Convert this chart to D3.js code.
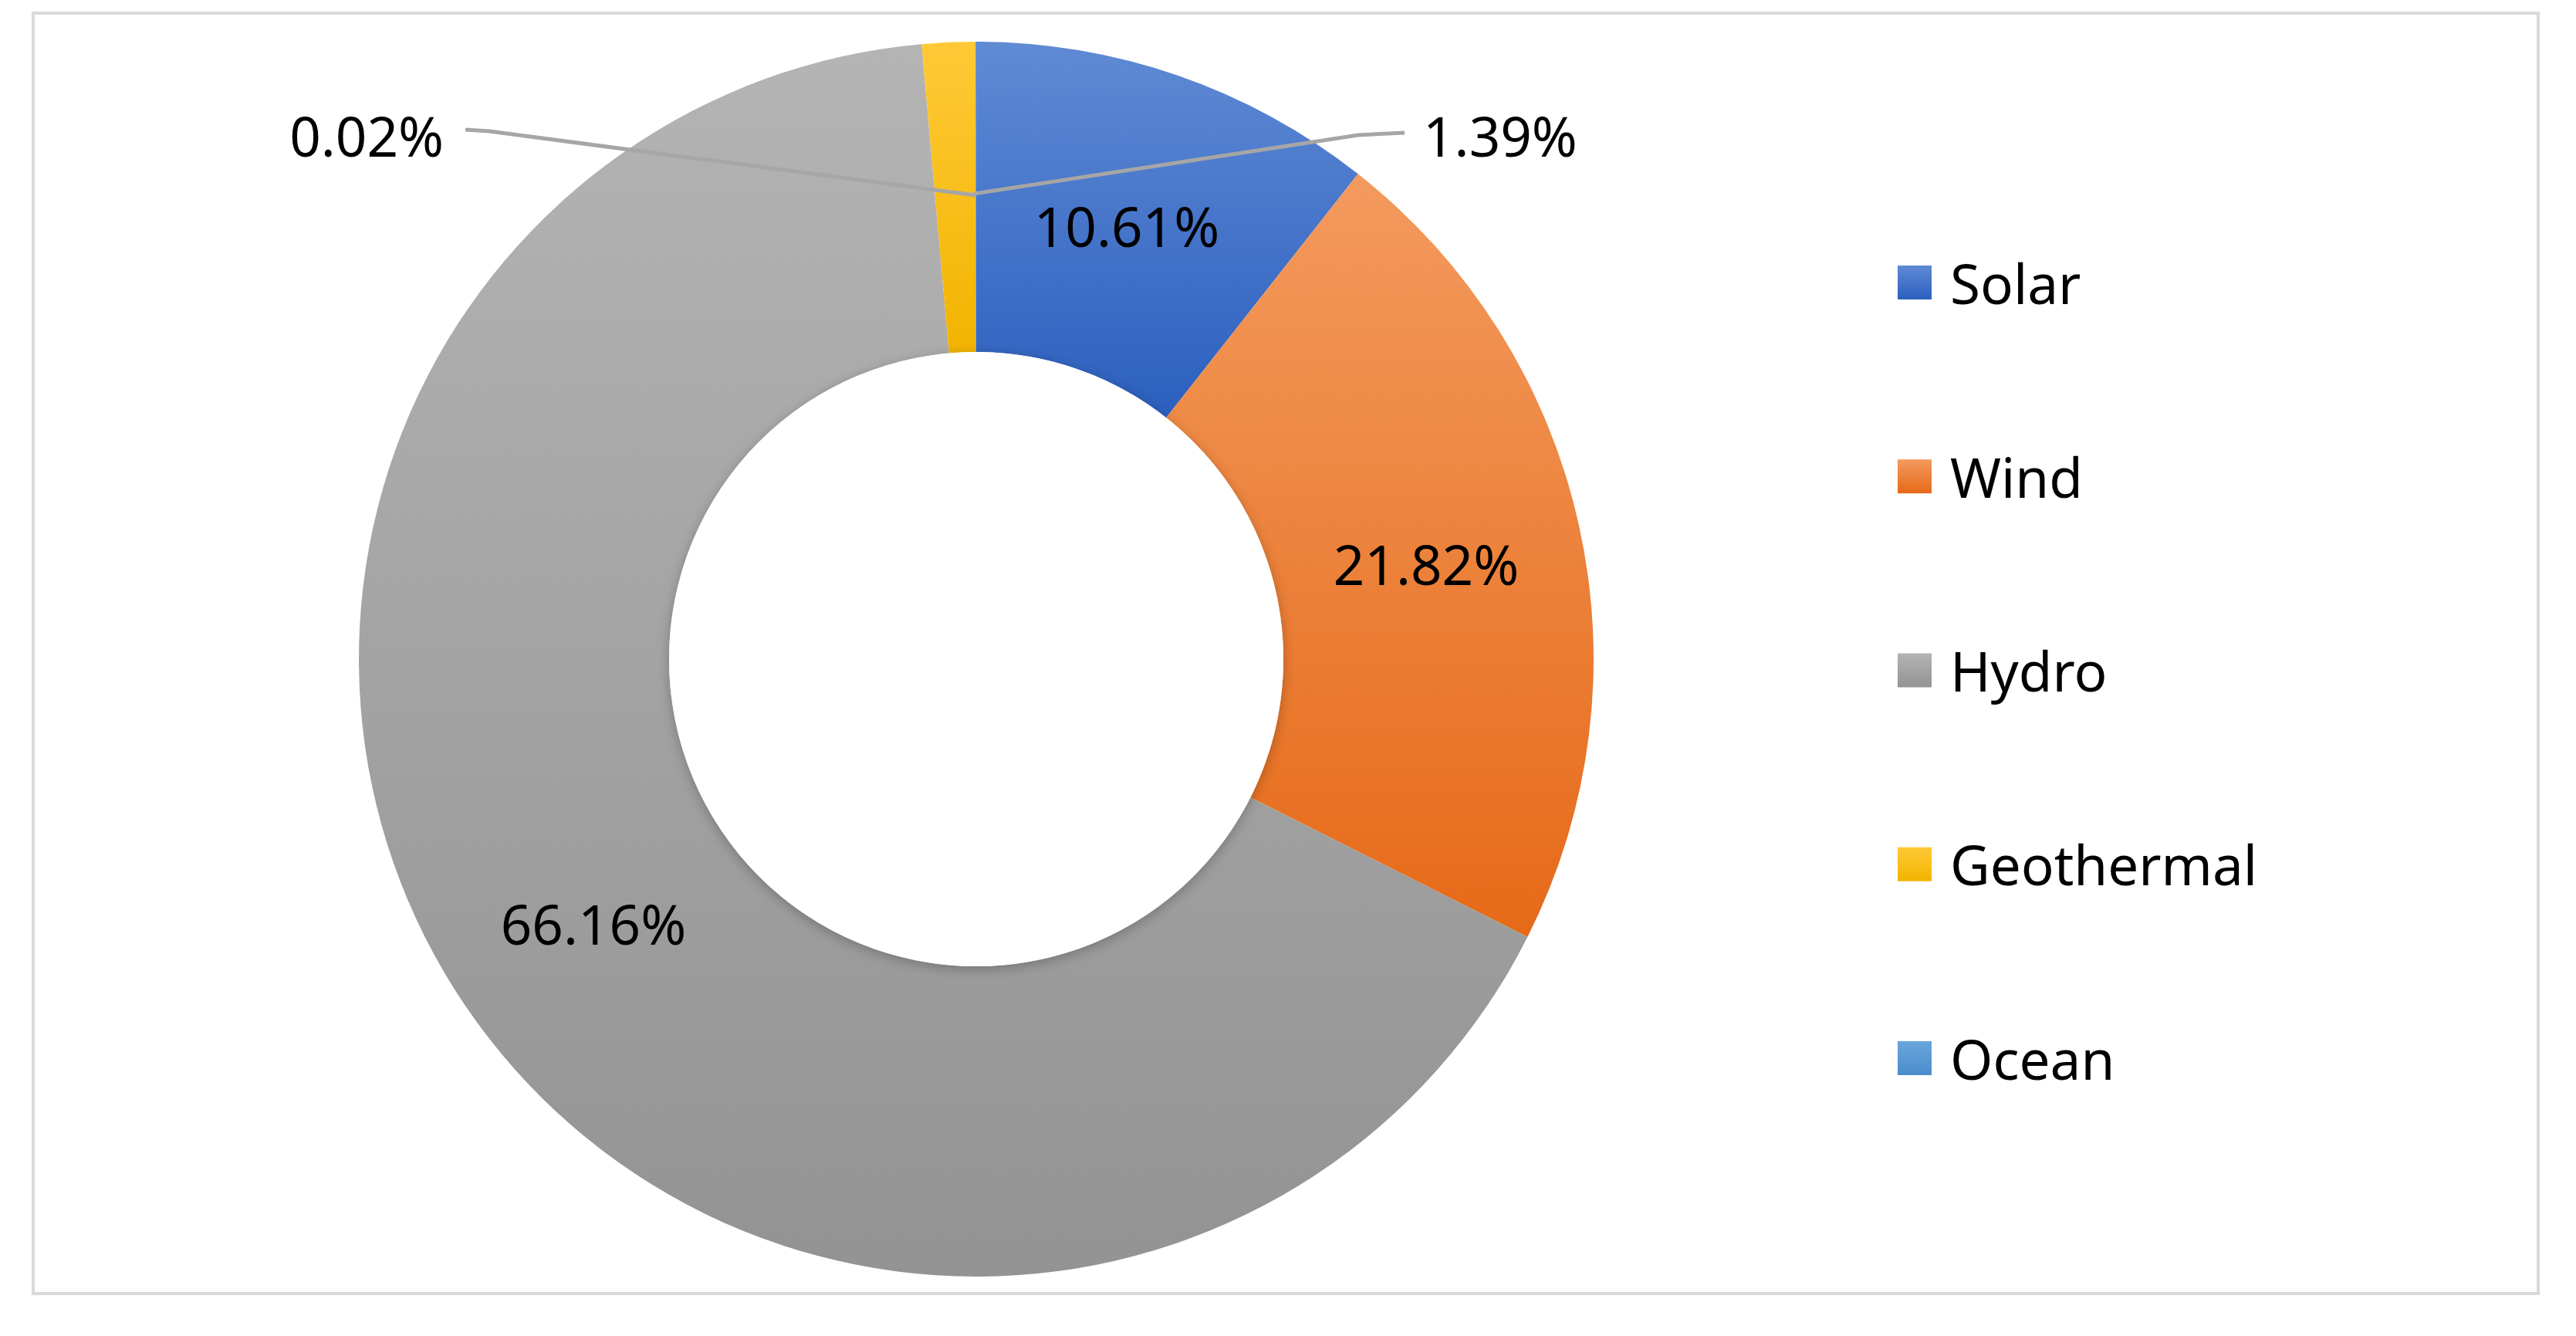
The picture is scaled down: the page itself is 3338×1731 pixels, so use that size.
<!DOCTYPE html>
<html><head><meta charset="utf-8">
<script src="https://cdn.jsdelivr.net/npm/d3@7"></script>
<style>body{margin:0;background:#fff}text{font-family:"Noto Sans","Open Sans",sans-serif}</style>
</head><body><svg id="c" width="3338" height="1731"></svg>
<script>
var categories = ["Solar", "Wind", "Hydro", "Geothermal", "Ocean"];
var shares = [10.61, 21.82, 66.16, 1.39, 0.02];
var labels = ["10.61%", "21.82%", "66.16%", "1.39%", "0.02%"];
var topColors = ["#5f8ad4", "#f39a5e", "#b4b4b4", "#ffc936", "#6aa6dc"];
var bottomColors = ["#2c5fbf", "#e66a18", "#939393", "#f2b400", "#4a8ccc"];

var svg = d3.select("#c");
svg.append("rect").attr("x", 43).attr("y", 17).attr("width", 3246).attr("height", 1659)
  .attr("fill", "#fff").attr("stroke", "#d9d9d9").attr("stroke-width", 4);

var defs = svg.append("defs");
categories.forEach(function (c, i) {
  var g = defs.append("linearGradient").attr("id", "g" + i)
    .attr("x1", 0).attr("y1", 0).attr("x2", 0).attr("y2", 1);
  g.append("stop").attr("offset", "0%").attr("stop-color", topColors[i]);
  g.append("stop").attr("offset", "100%").attr("stop-color", bottomColors[i]);
});
var f = defs.append("filter").attr("id", "sh").attr("x", "-20%").attr("y", "-20%").attr("width", "140%").attr("height", "140%");
f.append("feDropShadow").attr("dx", 0).attr("dy", 4).attr("stdDeviation", 8).attr("flood-color", "#000").attr("flood-opacity", 0.25);

var cx = 1265, cy = 854, R = 800, r = 398;
var pie = d3.pie().sort(null).value(function (d) { return d; });
var arcs = pie(shares);
var arc = d3.arc().innerRadius(r).outerRadius(R);
var g = svg.append("g").attr("transform", "translate(" + cx + "," + cy + ")");
g.selectAll("path.s").data(arcs).enter().append("path").attr("class", "s")
  .attr("d", arc).attr("fill", function (d, i) { return "url(#g" + i + ")"; });
// shadow around the hole
g.append("circle").attr("r", r).attr("fill", "#fff").attr("filter", "url(#sh)");

var fs = 71;
// labels inside the slices
var inside = [[1460, 292], [1848, 730], [769, 1196]];
inside.forEach(function (p, i) {
  svg.append("text").attr("x", p[0]).attr("y", p[1]).attr("text-anchor", "middle")
    .attr("dominant-baseline", "central").attr("font-size", fs).attr("fill", "#000").text(labels[i]);
});
// leader lines for the small slices
var line = d3.line();
svg.append("path").attr("d", line([[1820, 172], [1760, 175], [1262, 251]])).attr("fill", "none").attr("stroke", "#a6a6a6").attr("stroke-width", 5);
svg.append("path").attr("d", line([[603, 168], [634, 170], [1264, 253]])).attr("fill", "none").attr("stroke", "#a6a6a6").attr("stroke-width", 5);
svg.append("text").attr("x", 1844).attr("y", 175).attr("dominant-baseline", "central").attr("font-size", fs).text(labels[3]);
svg.append("text").attr("x", 575).attr("y", 175).attr("text-anchor", "end").attr("dominant-baseline", "central").attr("font-size", fs).text(labels[4]);

// legend
var ly = d3.scalePoint().domain(categories).range([366, 1371]);
var lg = svg.selectAll("g.lg").data(categories).enter().append("g").attr("class", "lg")
  .attr("transform", function (d) { return "translate(2459," + ly(d) + ")"; });
lg.append("rect").attr("x", 0).attr("y", -22).attr("width", 44).attr("height", 44)
  .attr("fill", function (d, i) { return "url(#g" + i + ")"; });
lg.append("text").attr("x", 68).attr("y", 0).attr("dominant-baseline", "central").attr("font-size", fs).text(function (d) { return d; });
</script></body></html>
